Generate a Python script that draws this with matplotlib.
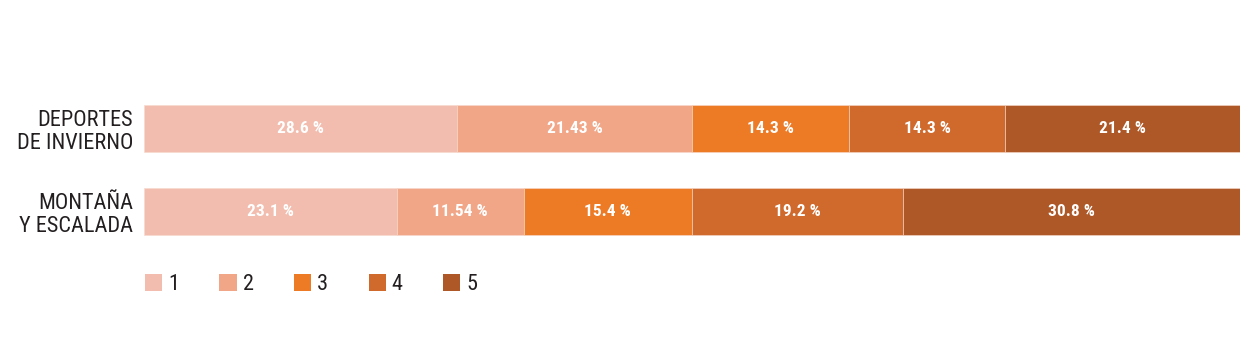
import matplotlib.pyplot as plt
from matplotlib import font_manager
from matplotlib.patches import Patch

# data
categories = ['DEPORTES\nDE INVIERNO', 'MONTAÑA\nY ESCALADA']
levels = ['1', '2', '3', '4', '5']
values = [
    [28.6, 21.43, 14.3, 14.3, 21.4],
    [23.1, 11.54, 15.4, 19.2, 30.8],
]
labels = [
    ['28.6 %', '21.43 %', '14.3 %', '14.3 %', '21.4 %'],
    ['23.1 %', '11.54 %', '15.4 %', '19.2 %', '30.8 %'],
]
colors = ['#F2BDAE', '#F1A688', '#ED7B26', '#D0692C', '#AE5727']

# pick a condensed face close to the original's Helvetica Condensed
installed = {f.name for f in font_manager.fontManager.ttflist}
for cand in ['Roboto Condensed', 'Archivo Narrow', 'PT Sans Narrow',
             'Liberation Sans Narrow', 'DejaVu Sans']:
    if cand in installed:
        font = cand
        break
plt.rcParams['font.family'] = [font, 'DejaVu Sans']

fig = plt.figure(figsize=(12.6, 3.5), dpi=100)
ax = fig.add_axes([144 / 1260, 100 / 350, 1096 / 1260, 160 / 350])

ypos = list(range(len(categories)))
bar_h = 0.566
for i, row in enumerate(values):
    left = 0
    for j, v in enumerate(row):
        ax.barh(ypos[i], v, left=left, height=bar_h, color=colors[j],
                edgecolor='#f7d9cc', linewidth=0.4)
        ax.text(left + v / 2, ypos[i], labels[i][j], ha='center', va='center',
                color='white', fontsize=12.5, fontweight='bold')
        left += v

ax.set_xlim(0, max(sum(r) for r in values))
ax.set_ylim(1.464, -0.464)
ax.set_yticks(ypos)
ax.set_yticklabels(categories, fontsize=16, color='#231f20', linespacing=1.15)
ax.tick_params(axis='y', length=0, pad=8)
ax.set_xticks([])
for s in ax.spines.values():
    s.set_visible(False)

handles = [Patch(facecolor=c, edgecolor='none') for c in colors]
fig.legend(handles, levels, loc='center left', bbox_to_anchor=(145 / 1260, 0.186),
           ncol=5, frameon=False, fontsize=16, handlelength=0.77, handleheight=0.77,
           handletextpad=0.27, columnspacing=1.82, borderpad=0, borderaxespad=0,
           labelcolor='#231f20')

fig.savefig('out.png', dpi=100)
